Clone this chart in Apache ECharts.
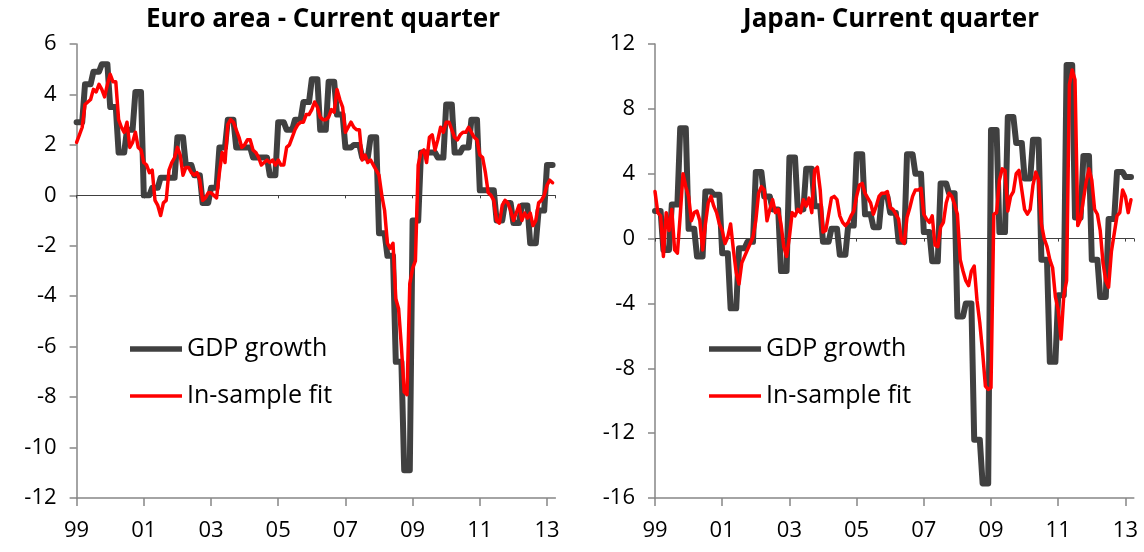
<!DOCTYPE html>
<html>
<head>
<meta charset="utf-8">
<title>Current quarter nowcasts</title>
<script src="https://cdn.jsdelivr.net/npm/echarts@6/dist/echarts.min.js"></script>
<style>
  html, body { margin: 0; padding: 0; background: #fff; }
  #chart { width: 1144px; height: 552px; }
</style>
</head>
<body>
<div id="chart"></div>
<script>
// monthly x axis: month 0 = Jan 1999, ticks every two years
var yearLabels = ["99", "01", "03", "05", "07", "09", "11", "13"];

// quarterly GDP growth (annualised), 1999Q1 .. 2013Q1
var euroGdp = [
  2.9, 4.4, 4.9, 5.2, 3.5, 1.7, 2.6, 4.1, 0.0, 0.3,
  0.7, 0.7, 2.3, 1.2, 0.8, -0.3, 0.3, 1.9, 3.0, 1.9,
  1.9, 1.5, 1.5, 0.8, 2.9, 2.6, 3.0, 3.7, 4.6, 2.6,
  4.5, 3.2, 1.9, 2.0, 1.5, 2.3, -1.5, -2.4, -6.6, -10.9,
  -1.0, 1.7, 1.7, 1.5, 3.6, 1.7, 1.9, 3.0, 0.2, 0.2,
  -1.0, -0.3, -1.1, -0.4, -1.9, -0.6, 1.2
];
var japanGdp = [
  1.7, -0.7, 2.1, 6.8, 0.6, -1.1, 2.9, 2.7, -0.9, -4.3,
  -0.6, -0.2, 4.1, 2.6, 1.8, -2.0, 5.0, 1.8, 4.3, 2.0,
  -0.2, 0.6, -1.0, 0.8, 5.2, 1.5, 0.7, 2.6, 1.6, -0.2,
  5.2, 4.0, 0.4, -1.4, 3.4, 2.8, -4.8, -4.0, -12.4, -15.1,
  6.7, 0.4, 7.5, 5.9, 3.7, 6.1, -1.3, -7.6, -3.5, 10.7,
  1.3, 5.1, -1.3, -3.6, 1.2, 4.1, 3.8
];

// monthly in-sample fit, Jan 1999 .. Mar 2013
var euroFit = [
  2.1, 2.4, 2.7, 3.6, 3.7, 3.8, 4.2, 4.1, 4.4, 4.2,
  3.9, 4.4, 4.8, 4.5, 4.5, 3.0, 2.7, 2.5, 2.9, 1.9,
  2.1, 2.5, 1.9, 1.8, 1.3, 1.2, 0.9, 1.0, -0.2, -0.4,
  -0.8, -0.3, -0.2, 1.0, 1.3, 1.5, 1.9, 1.6, 0.8, 1.1,
  1.1, 0.9, 0.8, 0.9, 0.6, -0.2, -0.1, 0.1, 0.1, 0.0,
  -0.1, 0.9, 1.7, 1.3, 2.8, 3.0, 2.9, 2.6, 2.3, 1.9,
  2.0, 2.2, 2.2, 1.8, 1.7, 1.5, 1.2, 1.3, 1.4, 1.3,
  1.4, 1.2, 1.4, 1.2, 1.2, 1.9, 2.0, 2.3, 2.6, 2.8,
  2.9, 2.9, 3.2, 3.2, 3.4, 3.7, 3.5, 3.1, 3.0, 3.0,
  3.1, 3.4, 3.3, 4.2, 3.8, 3.5, 2.5, 2.7, 2.9, 2.7,
  2.6, 2.6, 1.4, 1.6, 1.3, 1.4, 1.2, 1.0, 0.8, 0.0,
  -0.6, -1.9, -2.1, -1.9, -4.1, -4.5, -6.0, -7.8, -7.9, -3.5,
  -2.9, -2.6, 1.2, 1.7, 1.8, 1.3, 2.3, 2.4, 1.8, 2.2,
  2.7, 2.5, 2.9, 2.9, 2.6, 2.3, 2.2, 2.4, 2.5, 2.5,
  2.7, 2.5, 2.3, 2.2, 1.6, 1.5, 0.9, 0.1, 0.0, -0.2,
  -1.0, -1.1, -0.4, -0.2, -0.3, -0.6, -1.0, -0.7, -0.4, -1.0,
  -0.7, -0.9, -0.7, -1.2, -1.0, -0.3, -0.2, 0.0, 0.4, 0.6,
  0.5
];
var japanFit = [
  2.9, 1.6, 1.4, -1.1, 1.6, 0.5, 1.8, -0.7, -0.9, 1.4,
  4.0, 3.2, 2.6, 1.1, 1.6, 1.7, 1.1, -0.7, 0.9, 2.2,
  2.6, 2.0, 1.6, 0.9, 0.5, -0.3, 0.1, 0.9, -0.7, -2.1,
  -2.8, -1.5, -1.1, -0.7, -0.3, 0.1, 1.1, 2.8, 3.2, 3.0,
  1.1, 1.8, 2.4, 1.6, 1.8, 0.9, -0.5, -1.1, 0.1, 1.6,
  1.4, 1.8, 1.6, 2.4, 2.0, 2.5, 1.6, 4.2, 4.4, 3.0,
  0.4, 0.5, 1.5, 2.5, 2.6, 2.4, 1.4, 1.0, 0.8, 1.0,
  1.4, 1.7, 2.6, 3.3, 3.4, 2.8, 2.5, 2.2, 1.5, 2.0,
  2.6, 2.8, 2.8, 2.9, 1.9, 1.8, 1.5, 1.2, -0.1, -0.3,
  1.3, 1.9, 2.6, 3.0, 3.0, 3.1, 1.5, 1.2, 1.0, 1.4,
  -0.4, -0.5, 0.7, 1.0, 2.2, 2.8, 2.6, 2.1, 1.5, -1.3,
  -2.0, -2.6, -2.9, -2.0, -1.7, -3.8, -5.2, -7.0, -9.1, -9.3,
  -9.2, 1.5, 1.6, 3.6, 4.3, 4.2, 1.7, 2.6, 2.9, 4.0,
  4.2, 3.0, 1.8, 1.5, 1.8, 3.3, 4.1, 3.6, 0.9, 0.0,
  -0.5, -1.3, -1.8, -3.6, -4.4, -6.2, -3.5, -2.6, 9.5, 10.4,
  9.8, 0.8, 1.2, 2.4, 3.5, 4.3, 3.6, 1.8, 1.5, 0.5,
  -1.5, -2.6, -3.0, -0.8, 0.3, 1.4, 1.6, 3.0, 2.6, 1.6,
  2.4
];

var FONT = "'Open Sans', 'Liberation Sans', sans-serif";
var GREY = "#404040";
var RED = "#ff0000";
var AXIS = "#868686";

// GDP holds its quarter value for each month of the quarter
function gdpByMonth(q, n) {
  var out = [];
  for (var m = 0; m < n; m++) out.push([m, q[Math.floor(m / 3)]]);
  return out;
}
function fitByMonth(v) {
  return v.map(function (y, m) { return [m, y]; });
}

function xAxes(gi) {
  return [
    {
      type: "value", gridIndex: gi, min: 0, max: 171, interval: 24,
      axisLine: { onZero: false, lineStyle: { color: AXIS, width: 1.5 } },
      axisTick: { show: true, length: 8, lineStyle: { color: AXIS, width: 1.5 } },
      axisLabel: {
        margin: 22, color: "#000", fontSize: 22, fontFamily: FONT,
        formatter: function (v) { return yearLabels[Math.round(v / 24)]; }
      },
      splitLine: { show: false }
    },
    {
      type: "value", gridIndex: gi, min: 0, max: 171, interval: 24,
      axisLine: { onZero: true, lineStyle: { color: GREY, width: 1 } },
      axisTick: { show: true, inside: true, length: 3, lineStyle: { color: GREY } },
      axisLabel: { show: false },
      splitLine: { show: false }
    }
  ];
}
function yAxis(gi, min, max, step) {
  return {
    type: "value", gridIndex: gi, min: min, max: max, interval: step,
    axisLine: { show: true, lineStyle: { color: AXIS, width: 1.5 } },
    axisTick: { show: true, length: 7, lineStyle: { color: AXIS, width: 1.5 } },
    axisLabel: { margin: 20, color: "#000", fontSize: 22, fontFamily: FONT },
    splitLine: { show: false }
  };
}
function lines(xi, yi, gdp, fit) {
  return [
    {
      name: "GDP growth", type: "line", xAxisIndex: xi, yAxisIndex: yi,
      data: gdpByMonth(gdp, fit.length), symbol: "none", animation: false,
      lineStyle: { color: GREY, width: 6, join: "round", cap: "round" },
      itemStyle: { color: GREY }
    },
    {
      name: "In-sample fit", type: "line", xAxisIndex: xi, yAxisIndex: yi,
      data: fitByMonth(fit), symbol: "none", animation: false,
      lineStyle: { color: RED, width: 3.5, join: "round", cap: "round" },
      itemStyle: { color: RED }
    }
  ];
}
function legendAt(left) {
  return {
    left: left, top: 334, orient: "vertical", padding: 0,
    itemWidth: 52, itemHeight: 14, itemGap: 17,
    textStyle: { color: "#000", fontSize: 25, lineHeight: 30, fontFamily: FONT },
    data: [
      { name: "GDP growth", icon: "path://M0,0L104,0L104,11L0,11Z", itemStyle: { color: GREY } },
      { name: "In-sample fit", icon: "path://M0,0L104,0L104,7L0,7Z", itemStyle: { color: RED } }
    ]
  };
}

var chart = echarts.init(document.getElementById("chart"));
chart.setOption({
  backgroundColor: "#fff",
  title: [
    { text: "Euro area - Current quarter", left: 318, top: 2, textAlign: "center",
      textStyle: { fontSize: 26, fontWeight: "bold", color: "#000", fontFamily: FONT } },
    { text: "Japan- Current quarter", left: 886, top: 2, textAlign: "center",
      textStyle: { fontSize: 26, fontWeight: "bold", color: "#000", fontFamily: FONT } }
  ],
  legend: [legendAt(130), legendAt(709)],
  grid: [
    { left: 76.6, width: 478.8, top: 44, height: 454 },
    { left: 655, width: 478.8, top: 44, height: 454 }
  ],
  xAxis: xAxes(0).concat(xAxes(1)),
  yAxis: [yAxis(0, -12, 6, 2), yAxis(1, -16, 12, 4)],
  series: lines(0, 0, euroGdp, euroFit).concat(lines(2, 1, japanGdp, japanFit))
});
</script>
</body>
</html>
